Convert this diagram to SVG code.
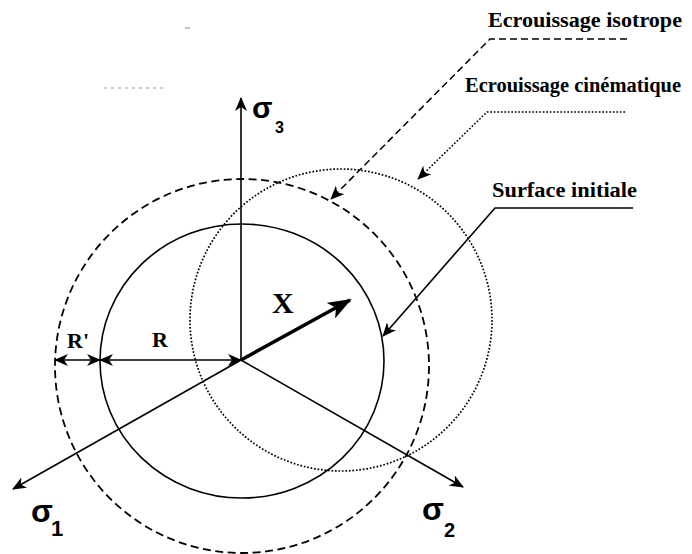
<svg xmlns="http://www.w3.org/2000/svg" width="692" height="554" viewBox="0 0 692 554">
<defs>
<style>
.ln{fill:none;stroke:#000;stroke-width:1.6}
.dash{fill:none;stroke:#000;stroke-width:1.8;stroke-dasharray:8 4.5}
.dot{fill:none;stroke:#000;stroke-width:1.7;stroke-dasharray:1.7 1.8}
.lbl{font-family:"Liberation Serif","Times New Roman",serif;font-size:20px;font-weight:bold;fill:#000}
.sig{font-family:"Liberation Sans",Arial,sans-serif;font-weight:bold;fill:#000}
.bold{font-family:"Liberation Serif","Times New Roman",serif;font-weight:bold;fill:#000}
</style>
<marker id="arr" markerUnits="userSpaceOnUse" markerWidth="14" markerHeight="12" viewBox="0 0 14 12" refX="13" refY="6" orient="auto-start-reverse">
<path d="M0,0 L14,6 L0,12 L4,6 Z" fill="#000" stroke="none"/>
</marker>
<marker id="big" markerUnits="userSpaceOnUse" markerWidth="24" markerHeight="18" viewBox="0 0 24 18" refX="22" refY="9" orient="auto">
<path d="M0,0 L24,9 L0,18 L6,9 Z" fill="#000" stroke="none"/>
</marker>
</defs>
<rect width="692" height="554" fill="#fff"/>

<!-- scan marks -->
<g id="marks" stroke="#999" stroke-width="1.2">
<line x1="185" y1="28" x2="190" y2="28"/>
<line x1="104" y1="88" x2="167" y2="88" stroke-dasharray="3 4"/>
</g>

<g id="surface-initiale">
<ellipse class="ln" cx="242" cy="361" rx="142" ry="137"/>
</g>
<g id="ecrouissage-isotrope">
<circle class="dash" cx="242" cy="366" r="187"/>
</g>
<g id="ecrouissage-cinematique">
<circle class="dot" cx="341" cy="320" r="151"/>
</g>

<g id="connectors">
<!-- axes -->
<line class="ln" x1="241" y1="360" x2="241" y2="98" marker-end="url(#arr)"/>
<line class="ln" x1="241" y1="360" x2="13" y2="489" marker-end="url(#arr)"/>
<line class="ln" x1="241" y1="360" x2="463" y2="487" marker-end="url(#arr)"/>
<!-- X vector -->
<line x1="241" y1="360" x2="350" y2="300" stroke="#000" stroke-width="3.5" marker-end="url(#big)"/>
<!-- R' and R dimension arrows -->
<line class="ln" x1="55" y1="360" x2="100" y2="360" marker-start="url(#arr)" marker-end="url(#arr)"/>
<line class="ln" x1="100" y1="360" x2="241" y2="360" marker-start="url(#arr)" marker-end="url(#arr)"/>
<!-- leaders -->
<polyline points="627,39 490,39 331,199" fill="none" stroke="#000" stroke-width="1.5" stroke-dasharray="7 4" marker-end="url(#arr)"/>
<polyline points="625,112 487,112 418,179" fill="none" stroke="#000" stroke-width="1.5" stroke-dasharray="1.7 1.8" marker-end="url(#arr)"/>
<polyline class="ln" points="633,208 495,208 383,336" marker-end="url(#arr)"/>
</g>

<g id="labels">
<text class="lbl" x="488" y="27" textLength="194" lengthAdjust="spacingAndGlyphs">Ecrouissage isotrope</text>
<text class="lbl" x="465" y="92" textLength="216" lengthAdjust="spacingAndGlyphs">Ecrouissage cinématique</text>
<text class="lbl" x="492" y="197" textLength="145" lengthAdjust="spacingAndGlyphs">Surface initiale</text>
<text class="bold" x="67" y="348" font-size="22">R'</text>
<text class="bold" x="152" y="347" font-size="22">R</text>
<text class="bold" x="272" y="313" font-size="30">X</text>
<text class="sig" x="252" y="118" font-size="30">σ</text>
<text class="sig" x="275" y="133" font-size="16">3</text>
<text class="sig" x="31" y="522" font-size="32">σ</text>
<text class="sig" x="51" y="536" font-size="22">1</text>
<text class="sig" x="422" y="520" font-size="32">σ</text>
<text class="sig" x="444" y="537" font-size="20">2</text>
</g>
</svg>
